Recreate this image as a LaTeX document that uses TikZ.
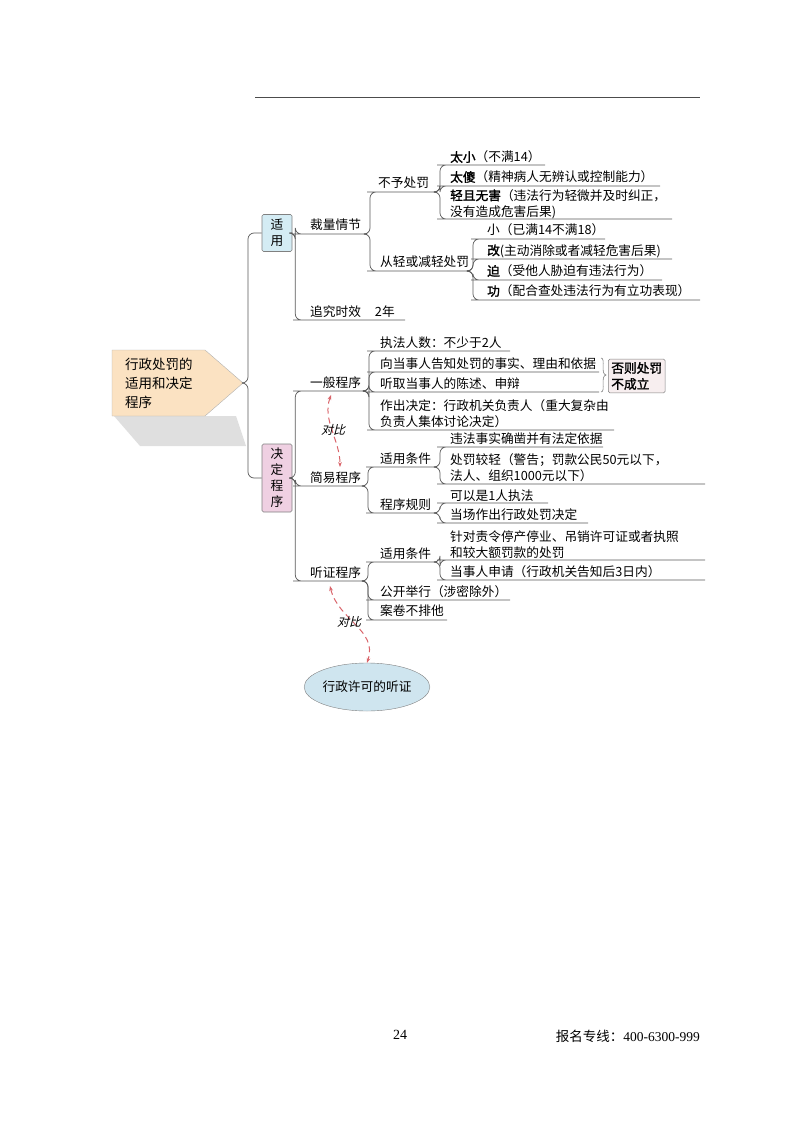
\documentclass[tikz,border=0pt]{standalone}
\usepackage{fontspec}
\setmainfont{Noto Sans CJK SC}
\newfontfamily\cjkb{Noto Sans CJK SC}[FakeBold=1.6]
\newfontfamily\cjki{Noto Sans CJK SC}[FakeSlant=0.25]
\newfontfamily\serifd{Liberation Serif}
\usetikzlibrary{shapes.geometric,arrows.meta}
\definecolor{peach}{HTML}{FBE2C2}
\definecolor{lblue}{HTML}{D4ECF4}
\definecolor{lpink}{HTML}{EFD0E2}
\definecolor{gbox}{HTML}{F7EEEF}
\definecolor{cmpred}{HTML}{D9646A}
\definecolor{ecl}{HTML}{CFE5EF}
\tikzset{
 lbl/.style={inner sep=0pt,font=\fontsize{12.7}{16}\selectfont,align=left},
 br/.style={draw=black!65,line width=0.7pt,rounded corners=6},
 cmp/.style={draw=cmpred,dashed,line width=1pt,dash pattern=on 6pt off 4pt,{Stealth[length=5pt]}-{Stealth[length=5pt]}},
 cbox/.style={draw=black!50,line width=0.6pt,rounded corners=1.5pt,inner sep=3pt,font=\fontsize{12.7}{16}\selectfont,align=center}
}
\newcommand\mmleaf[8]{%
 \node[lbl,anchor=west] (#1) at (#3,#4) {#8};
 \coordinate (#1s) at (#6,#5); \coordinate (#1e) at (#7,#5);
 \draw[br] (#2) -- ++(3,0) |- (#1s) -- (#1e);}
\begin{document}
\begin{tikzpicture}[x=1pt,y=-1pt]
\useasboundingbox (0,0) rectangle (800,1124);
\draw[black!70,line width=0.8pt] (255,97) -- (700,97);
% root
\fill[gray!25] (114,416) -- (236,416) -- (246,446) -- (140,446) -- cycle;
\draw[black!30,fill=peach] (112,350) -- (205,350) -- (243,383) -- (205,416) -- (112,416) -- cycle;
\coordinate (root) at (243,383);
\node[lbl,anchor=west,font=\fontsize{13.5}{19}\selectfont] (roottxt) at (125,383) {行政处罚的\\适用和决定\\程序};
% level 1 boxes
\node[cbox,fill=lblue,minimum width=30pt,minimum height=37pt] (sy) at (277,233) {适\\用};
\node[cbox,fill=lpink,minimum width=30pt,minimum height=68pt] (jd) at (277,478) {决\\定\\程\\序};
\draw[br] (sy.west) -- (248,233) |- (root);
\draw[br] (jd.west) -- (248,478) |- (root);
% 适用
\mmleaf{cl}{sy.east}{310}{225}{234}{299}{367}{裁量情节}
\mmleaf{zj}{sy.east}{310}{312}{320}{299}{405}{追究时效\hspace{14pt}2年}
\mmleaf{by}{cle}{378}{183}{192}{373}{437}{不予处罚}
\mmleaf{cq}{cle}{380}{262}{271}{373}{470}{从轻或减轻处罚}
\mmleaf{a1}{bye}{450}{157}{165}{443}{545}{{\cjkb 太小}（不满14）}
\mmleaf{a2}{bye}{450}{177}{186}{443}{660}{{\cjkb 太傻}（精神病人无辨认或控制能力）}
\mmleaf{a3}{bye}{450}{204}{219}{443}{672}{{\cjkb 轻且无害}（违法行为轻微并及时纠正，\\没有造成危害后果)}
\mmleaf{b1}{cqe}{487}{230}{239}{477}{605}{小（已满14不满18）}
\mmleaf{b2}{cqe}{487}{251}{259}{477}{672}{{\cjkb 改}(主动消除或者减轻危害后果)}
\mmleaf{b3}{cqe}{487}{271}{280}{477}{662}{{\cjkb 迫}（受他人胁迫有违法行为）}
\mmleaf{b4}{cqe}{487}{291}{300}{477}{700}{{\cjkb 功}（配合查处违法行为有立功表现）}
% 决定程序
\mmleaf{yb}{jd.east}{310}{383}{391}{299}{366}{一般程序}
\mmleaf{jy}{jd.east}{310}{478}{486}{299}{365}{简易程序}
\mmleaf{tz}{jd.east}{310}{573}{581}{299}{365}{听证程序}
\mmleaf{c1}{ybe}{380}{343}{351}{373}{510}{执法人数：不少于2人}
\mmleaf{c2}{ybe}{380}{364}{372}{373}{599}{向当事人告知处罚的事实、理由和依据}
\mmleaf{c3}{ybe}{380}{384}{392}{373}{599}{听取当事人的陈述、申辩}
\mmleaf{c4}{ybe}{380}{414}{430}{373}{614}{作出决定：行政机关负责人（重大复杂由\\负责人集体讨论决定）}
\draw[black!50,line width=0.6pt] (601,358) .. controls (606,358) and (600,374) .. (606,375) .. controls (600,376) and (606,392) .. (601,392);
\node[cbox,fill=gbox,anchor=west,align=left,font=\cjkb\fontsize{12.7}{16}\selectfont] (fz) at (608,376) {否则处罚\\不成立};
\mmleaf{d1}{jye}{380}{459}{467}{372}{437}{适用条件}
\mmleaf{d2}{jye}{380}{505}{513}{372}{437}{程序规则}
\mmleaf{e1}{d1e}{450}{439}{447}{443}{603}{违法事实确凿并有法定依据}
\mmleaf{e2}{d1e}{450}{468}{484}{443}{705}{处罚较轻（警告；罚款公民50元以下，\\法人、组织1000元以下）}
\mmleaf{f1}{d2e}{450}{496}{503}{443}{548}{可以是1人执法}
\mmleaf{f2}{d2e}{450}{515}{523}{443}{588}{当场作出行政处罚决定}
\mmleaf{g1}{tze}{380}{554}{562}{372}{437}{适用条件}
\mmleaf{g2}{tze}{380}{592}{600}{372}{510}{公开举行（涉密除外）}
\mmleaf{g3}{tze}{380}{611}{620}{372}{447}{案卷不排他}
\mmleaf{h1}{g1e}{450}{545}{560}{443}{705}{针对责令停产停业、吊销许可证或者执照\\和较大额罚款的处罚}
\mmleaf{h2}{g1e}{450}{572}{580}{443}{705}{当事人申请（行政机关告知后3日内）}
% compare arrows
\coordinate (p1) at (331,395);
\coordinate (p2) at (340,467);
\draw[cmp] (p1) .. controls (322,420) and (340,440) .. (p2);
\node[lbl,font=\cjki\fontsize{12}{14}\selectfont] (db1) at (333,430) {对比};
\node[draw=black!50,fill=ecl,ellipse,minimum width=92pt,minimum height=48pt,inner sep=0pt,font=\fontsize{12.7}{14}\selectfont] (xk) at (367,687) {行政许可的听证};
\coordinate (p3) at (330,586);
\draw[cmp] (p3) .. controls (338,620) and (378,630) .. (xk.north);
\node[lbl,font=\cjki\fontsize{12}{14}\selectfont] (db2) at (349,622) {对比};
% footer
\node[lbl,font=\serifd\fontsize{14}{16}\selectfont] (pg) at (400,1035) {24};
\node[lbl,anchor=east,font=\fontsize{13.5}{16}\selectfont] (tel) at (700,1036) {报名专线：{\serifd 400-6300-999}};
\end{tikzpicture}
\end{document}
